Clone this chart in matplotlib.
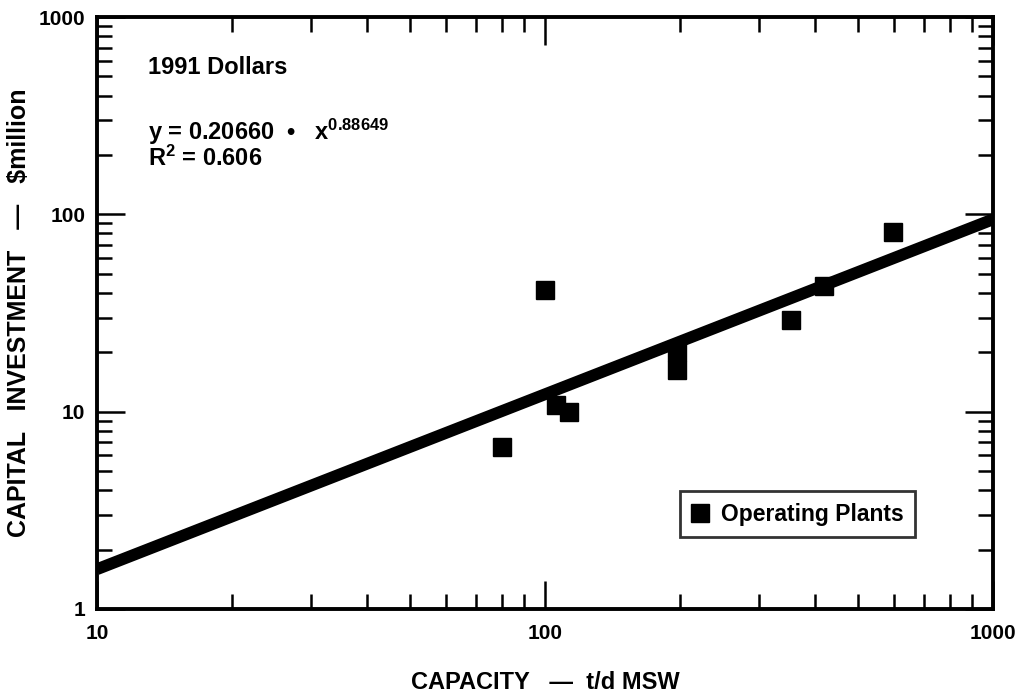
import numpy as np
import matplotlib.pyplot as plt
from matplotlib.ticker import LogLocator, NullFormatter, FixedLocator, FixedFormatter

plt.rcParams['font.family'] = ['Liberation Sans', 'DejaVu Sans']
plt.rcParams['font.weight'] = 'bold'
plt.rcParams['axes.labelweight'] = 'bold'
plt.rcParams['mathtext.fontset'] = 'custom'
plt.rcParams['mathtext.rm'] = 'Liberation Sans:bold'
plt.rcParams['mathtext.it'] = 'Liberation Sans:bold'
plt.rcParams['mathtext.bf'] = 'Liberation Sans:bold'

# operating plants (t/d MSW, $million 1991)
capacity = [80, 100, 106, 113, 197, 197, 354, 420, 598]
investment = [6.6, 41.5, 10.8, 10.0, 20.0, 16.2, 29.2, 43.5, 81.5]

# power-law fit
coef_a = 0.20660
coef_b = 0.88649
r2 = 0.606

fig = plt.figure(figsize=(10.18, 6.94), dpi=100)
ax = fig.add_axes([0.0953, 0.1225, 0.8801, 0.853])

xf = np.logspace(1, 3, 50)
ax.plot(xf, coef_a * xf ** coef_b, color='black', lw=8.5, solid_capstyle='butt', zorder=2)
ax.plot(capacity, investment, 's', color='black', ms=13, zorder=3, label='Operating Plants')

ax.set_xscale('log')
ax.set_yscale('log')
ax.set_xlim(10, 1000)
ax.set_ylim(1, 1000)

ax.xaxis.set_major_locator(FixedLocator([10, 100, 1000]))
ax.xaxis.set_major_formatter(FixedFormatter(['10', '100', '1000']))
ax.yaxis.set_major_locator(FixedLocator([1, 10, 100, 1000]))
ax.yaxis.set_major_formatter(FixedFormatter(['1', '10', '100', '1000']))
for a in (ax.xaxis, ax.yaxis):
    a.set_minor_locator(LogLocator(base=10, subs=np.arange(2, 10)))
    a.set_minor_formatter(NullFormatter())

ax.tick_params(which='both', direction='in', top=True, right=True, width=1.8, labelsize=15)
ax.tick_params(axis='x', pad=11)
ax.tick_params(axis='y', pad=8.5)
ax.tick_params(which='major', length=20)
ax.tick_params(which='minor', length=11)
for s in ax.spines.values():
    s.set_linewidth(2.8)

ax.set_xlabel('CAPACITY   —  t/d MSW', fontsize=17, labelpad=20)
ax.set_ylabel('CAPITAL   INVESTMENT   —   $million', fontsize=18)
ax.yaxis.set_label_coords(-0.074, 0.5)

ax.text(0.057, 0.9155, '1991 Dollars', transform=ax.transAxes, fontsize=17, va='center')
ax.text(0.057, 0.806, 'y = %.5f  •   x$^{%.5f}$' % (coef_a, coef_b), transform=ax.transAxes,
        fontsize=17, va='center')
ax.text(0.057, 0.761, 'R$^{2}$ = %.3f' % r2, transform=ax.transAxes, fontsize=17, va='center')

leg = ax.legend(loc='lower right', bbox_to_anchor=(0.913, 0.1216), fontsize=16.5, frameon=True,
                fancybox=False, edgecolor='black', handletextpad=0.5, handlelength=0.8,
                borderpad=0.5, borderaxespad=0, numpoints=1, markerscale=1.0)
leg.get_frame().set_linewidth(2)

fig.savefig('out.png', dpi=100)
